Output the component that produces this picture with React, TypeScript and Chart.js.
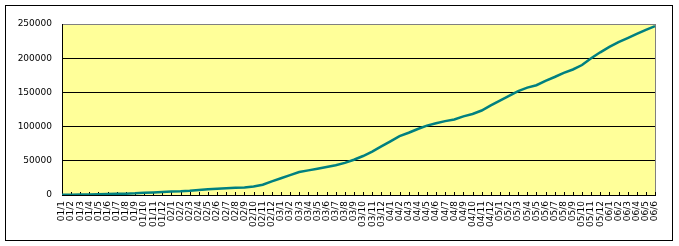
import React, { useEffect, useRef } from "react";
import { Chart, registerables } from "chart.js";

Chart.register(...registerables);

const categories: string[] = [
  "01/1", "01/2", "01/3", "01/4", "01/5", "01/6", "01/7", "01/8", "01/9", "01/10", "01/11", "01/12",
  "02/1", "02/2", "02/3", "02/4", "02/5", "02/6", "02/7", "02/8", "02/9", "02/10", "02/11", "02/12",
  "03/1", "03/2", "03/3", "03/4", "03/5", "03/6", "03/7", "03/8", "03/9", "03/10", "03/11", "03/12",
  "04/1", "04/2", "04/3", "04/4", "04/5", "04/6", "04/7", "04/8", "04/9", "04/10", "04/11", "04/12",
  "05/1", "05/2", "05/3", "05/4", "05/5", "05/6", "05/7", "05/8", "05/9", "05/10", "05/11", "05/12",
  "06/1", "06/2", "06/3", "06/4", "06/5", "06/6",
];

const seriesValues: number[] = [
  300, 500, 700, 900, 1100, 1300, 1700, 2000, 2400, 3200, 3800, 4500,
  5000, 5500, 6300, 7400, 8500, 9300, 10000, 10500, 11000, 12500, 15000, 20000,
  24500, 29000, 33500, 36000, 38500, 41000, 43500, 47000, 51500, 57000, 63500, 71000,
  78500, 86000, 91000, 96500, 101500, 105000, 108000, 110500, 115000, 118500, 123500, 131000,
  138000, 145000, 152000, 157000, 160500, 167000, 172500, 178500, 183500, 190000, 200000, 208600,
  216500, 223600, 229500, 235600, 241500, 247000,
];

const yTicks: number[] = [0, 50000, 100000, 150000, 200000, 250000];

const FONT = { family: "'DejaVu Sans'", size: 9 };

export default function App() {
  const ref = useRef<HTMLCanvasElement | null>(null);

  useEffect(() => {
    document.body.style.margin = "0";
    const canvas = ref.current;
    if (!canvas) return;

    const framePlugin = {
      id: "frame",
      beforeDraw(chart: any) {
        const { ctx, chartArea } = chart;
        ctx.save();
        ctx.fillStyle = "#ffffff";
        ctx.fillRect(0, 0, chart.width, chart.height);
        ctx.fillStyle = "#ffff99";
        ctx.fillRect(chartArea.left, chartArea.top, chartArea.right - chartArea.left, chartArea.bottom - chartArea.top);
        ctx.restore();
      },
      beforeDatasetsDraw(chart: any) {
        const { ctx, chartArea } = chart;
        const xs = chart.scales.x;
        ctx.save();
        ctx.strokeStyle = "#808080";
        ctx.lineWidth = 1;
        ctx.beginPath();
        const r = Math.round(chartArea.right) + 0.5;
        ctx.moveTo(r, chartArea.top);
        ctx.lineTo(r, chartArea.bottom);
        ctx.stroke();
        ctx.strokeStyle = "#000000";
        ctx.beginPath();
        for (let i = 0; i < categories.length; i++) {
          const px = Math.round(xs.getPixelForValue(i)) + 0.5;
          ctx.moveTo(px, chartArea.bottom);
          ctx.lineTo(px, chartArea.bottom - 3);
        }
        ctx.stroke();
        ctx.restore();
      },
      afterDraw(chart: any) {
        const { ctx } = chart;
        ctx.save();
        ctx.strokeStyle = "#000000";
        ctx.lineWidth = 1;
        ctx.strokeRect(5.5, 5.5, 667, 235);
        ctx.restore();
      },
    };

    const chart = new Chart(canvas, {
      type: "line",
      data: {
        labels: categories,
        datasets: [
          {
            data: seriesValues,
            borderColor: "#008080",
            borderWidth: 2.5,
            pointRadius: 0,
            tension: 0,
            fill: false,
          },
        ],
      },
      options: {
        animation: false,
        responsive: false,
        maintainAspectRatio: false,
        layout: { padding: { top: 24, right: 24, bottom: 0, left: 0 } },
        plugins: {
          legend: { display: false },
          tooltip: { enabled: false },
        },
        scales: {
          x: {
            type: "category",
            offset: false,
            grid: { display: true, drawOnChartArea: false, drawTicks: false, color: "#000000" },
            border: { display: true, color: "#000000", width: 1 },
            ticks: {
              autoSkip: false,
              maxRotation: 90,
              minRotation: 90,
              padding: 6,
              color: "#000000",
              font: FONT,
            },
            afterFit(scale: any) {
              scale.height = 51;
            },
          },
          y: {
            min: 0,
            max: 250000,
            afterBuildTicks(scale: any) {
              scale.ticks = yTicks.map((v) => ({ value: v }));
            },
            grid: {
              drawTicks: false,
              color: (c: any) => (c.tick && c.tick.value === 250000 ? "#808080" : "#000000"),
              lineWidth: 1,
            },
            border: { display: true, color: "#000000", width: 1 },
            ticks: {
              padding: 10,
              color: "#000000",
              font: FONT,
              callback: (v: any) => String(v),
            },
            afterFit(scale: any) {
              scale.width = 62;
            },
          },
        },
      },
      plugins: [framePlugin],
    });

    return () => chart.destroy();
  }, []);

  return (
    <div style={{ width: 679, height: 246 }}>
      <canvas ref={ref} width={679} height={246} style={{ display: "block", width: 679, height: 246 }} />
    </div>
  );
}
